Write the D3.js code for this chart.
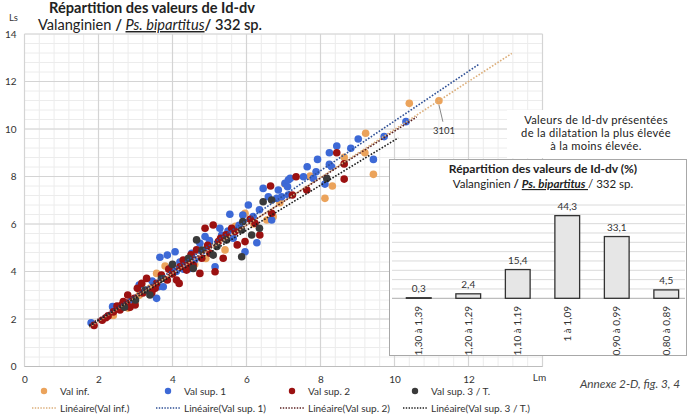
<!DOCTYPE html>
<html><head><meta charset="utf-8">
<script src="https://cdn.jsdelivr.net/npm/d3@7"></script>
<style>
body{margin:0;background:#fff;}
svg{display:block;font-family:Lato,"Open Sans",sans-serif;}
</style></head>
<body><svg id="c" width="689" height="420"></svg>
<script>
// ---------- DATA ----------
const xTicks = [0, 2, 4, 6, 8, 10, 12];
const yTicks = [0, 2, 4, 6, 8, 10, 12, 14];
const seriesNames = ["Val inf.", "Val sup. 1", "Val sup. 2", "Val sup. 3 / T."];
const trendNames = ["Linéaire(Val inf.)", "Linéaire(Val sup. 1)", "Linéaire(Val sup. 2)", "Linéaire(Val sup. 3 / T.)"];

const valInf = [[2.4,2.15],[2.8,2.46],[2.99,2.73],[3.1,3.0],[3.4,3.3],[3.57,3.92],[3.8,4.23],[4.3,4.4],[4.6,4.3],[4.9,4.55],[5.0,5.2],[5.42,4.91],[5.7,5.9],[5.96,6.45],[6.2,6.0],[6.55,6.17],[6.72,6.31],[6.9,6.9],[7.04,7.68],[7.72,8.02],[7.73,7.99],[8.12,7.08],[8.32,7.6],[8.64,8.81],[9.2,9.0],[9.22,9.82],[9.43,8.09],[10.4,11.08],[11.2,11.19]];
const valSup1 = [[1.8,1.84],[2.38,2.52],[2.6,2.45],[2.9,2.8],[3.1,3.43],[3.3,3.2],[3.45,3.6],[3.57,2.87],[3.62,3.36],[3.75,3.36],[3.66,4.6],[3.86,4.69],[4.07,4.83],[3.98,4.2],[4.1,4.0],[4.2,4.4],[4.3,4.1],[4.34,4.35],[4.47,4.13],[4.52,4.77],[4.6,4.5],[4.74,5.19],[4.8,4.85],[4.88,5.47],[4.97,5.04],[5.0,5.3],[5.15,4.2],[5.28,5.82],[5.33,5.54],[5.45,5.35],[5.5,5.7],[5.55,6.41],[5.64,5.4],[5.8,5.95],[5.96,4.83],[5.9,6.38],[6.05,6.8],[6.18,6.31],[6.28,5.21],[6.35,6.6],[6.45,7.5],[6.59,7.15],[6.68,6.17],[6.82,7.08],[6.86,7.43],[6.95,7.15],[7.04,7.71],[7.13,7.22],[7.11,7.57],[7.13,7.85],[7.18,7.92],[7.54,7.99],[7.64,8.41],[7.81,7.92],[7.88,8.2],[7.92,8.72],[8.12,7.68],[8.24,8.51],[8.24,9.0],[8.3,8.41],[8.44,9.28],[8.82,9.19],[9.02,9.58],[9.43,8.72],[9.72,9.68],[10.31,10.31]];
const valSup2 = [[1.88,1.73],[2.1,1.95],[2.2,2.05],[2.26,2.13],[2.4,2.3],[2.5,2.55],[2.58,2.38],[2.63,2.59],[2.67,2.73],[2.76,2.67],[2.79,3.01],[2.85,2.5],[2.99,2.59],[2.97,2.87],[3.05,3.29],[3.17,3.5],[3.2,3.1],[3.3,3.71],[3.53,3.29],[3.44,3.11],[3.57,3.5],[3.7,3.85],[3.86,3.64],[3.9,4.1],[4.0,3.9],[4.11,3.64],[4.18,3.5],[4.2,4.2],[4.29,4.48],[4.38,4.06],[4.45,4.3],[4.5,4.7],[4.56,4.27],[4.65,4.91],[4.79,4.56],[4.74,3.92],[4.88,5.82],[4.95,5.1],[5.01,4.77],[5.1,5.96],[5.15,3.99],[5.3,5.4],[5.37,4.56],[5.24,5.26],[5.45,5.55],[5.6,5.82],[5.69,5.68],[5.75,5.12],[5.96,5.26],[6.1,6.2],[6.23,6.03],[6.36,5.54],[6.65,7.6],[6.68,6.45],[7.34,7.99],[7.24,7.22],[7.63,7.43],[8.44,9.0],[8.64,8.53],[8.64,7.89]];
const valSup3 = [[2.7,2.5],[3.0,2.8],[3.26,3.22],[3.39,3.01],[3.7,3.7],[4.0,4.3],[4.43,4.56],[4.56,4.13],[4.65,5.33],[4.8,4.9],[5.1,4.69],[5.2,5.05],[5.46,5.33],[5.87,5.75],[5.87,4.62],[5.9,6.1],[6.14,5.54],[6.35,5.82],[6.45,6.94],[6.68,7.01],[8.17,7.92]];

// linear trend lines: slope, intercept, x start, x end
const trendSlope = [1.01, 1.047, 0.989, 0.949];
const trendIntercept = [-0.12, -0.134, 0.02, 0.04];
const trendX0 = [1.75, 1.75, 1.75, 1.75];
const trendX1 = [13.17, 12.28, 10.6, 10.1];

const labelPoint = [11.2, 11.19];
const labelText = "3101";

// inset bar chart
const barCats = ["1,30 à 1,39", "1,20 à 1,29", "1,10 à 1,19", "1 à 1,09", "0,90 à 0,99", "0,80 à 0,89"];
const barVals = [0.3, 2.4, 15.4, 44.3, 33.1, 4.5];
const barGrid = [5, 10, 15, 20, 25, 30, 35, 40, 45, 50];

// ---------- STYLE ----------
const colors = ["#eba35b", "#3d69d6", "#9b1111", "#3a3a3a"];
const trendColors = ["#dcae7a", "#2e4f95", "#5a2020", "#1e1e1e"];
const svg = d3.select("#c");

const x = d3.scaleLinear().domain([0, 14]).range([24.5, 542.5]);
const y = d3.scaleLinear().domain([0, 14]).range([366.5, 34]);

// minor grid
const minorX = d3.range(0, 14.001, 0.4);
const g = svg.append("g");
g.selectAll("line.mx").data(minorX).join("line")
  .attr("x1", d => x(d)).attr("x2", d => x(d)).attr("y1", y(14)).attr("y2", y(0))
  .attr("stroke", "#ececec").attr("stroke-width", 1);
g.selectAll("line.my").data(minorX).join("line")
  .attr("y1", d => y(d)).attr("y2", d => y(d)).attr("x1", x(0)).attr("x2", x(14))
  .attr("stroke", "#ececec").attr("stroke-width", 1);
// major grid
g.selectAll("line.Mx").data(yTicks).join("line")
  .attr("x1", d => x(d)).attr("x2", d => x(d)).attr("y1", y(14)).attr("y2", y(0))
  .attr("stroke", "#d4d4d4").attr("stroke-width", 1.2);
g.selectAll("line.My").data(yTicks).join("line")
  .attr("y1", d => y(d)).attr("y2", d => y(d)).attr("x1", x(0)).attr("x2", x(14))
  .attr("stroke", "#d4d4d4").attr("stroke-width", 1.2);
g.append("line").attr("x1", x(0)).attr("x2", x(14)).attr("y1", y(0)).attr("y2", y(0))
  .attr("stroke", "#bdbdbd").attr("stroke-width", 1.2);

// axes labels
const xa = svg.append("g").attr("transform", `translate(0,${y(0)})`)
  .call(d3.axisBottom(x).tickValues(xTicks).tickSize(0).tickPadding(9).tickFormat(d3.format("d")));
xa.select(".domain").remove();
xa.selectAll("text").attr("font-size", 10).attr("fill", "#333").attr("font-family", "Lato, sans-serif");
const ya = svg.append("g").attr("transform", `translate(${x(0)},0)`)
  .call(d3.axisLeft(y).tickValues(yTicks).tickSize(0).tickPadding(8).tickFormat(d3.format("d")));
ya.select(".domain").remove();
ya.selectAll("text").attr("font-size", 10).attr("fill", "#333").attr("font-family", "Lato, sans-serif");
svg.append("text").attr("x", x(14) - 3).attr("y", 381).attr("text-anchor", "middle")
  .attr("font-size", 10).attr("fill", "#333").text("Lm");
svg.append("text").attr("x", 9).attr("y", 21).attr("font-size", 9.5).attr("fill", "#333").text("Ls");

// points
const allSeries = [valInf, valSup1, valSup2, valSup3];
allSeries.forEach((s, i) => {
  svg.append("g").selectAll("circle").data(s).join("circle")
    .attr("cx", d => x(d[0])).attr("cy", d => y(d[1])).attr("r", 3.8)
    .attr("fill", colors[i]);
});
// trend lines
allSeries.forEach((s, i) => {
  const pts = [trendX0[i], trendX1[i]].map(v => [v, trendSlope[i] * v + trendIntercept[i]]);
  svg.append("path").attr("d", d3.line().x(d => x(d[0])).y(d => y(d[1]))(pts))
    .attr("stroke", trendColors[i]).attr("stroke-width", 1.6).attr("fill", "none")
    .attr("stroke-dasharray", "1.6,1.6");
});
// data label 3101
svg.append("line").attr("x1", x(labelPoint[0])).attr("y1", y(labelPoint[1]) + 4)
  .attr("x2", x(labelPoint[0]) + 4).attr("y2", y(labelPoint[1]) + 21)
  .attr("stroke", "#888").attr("stroke-width", 1);
svg.append("text").attr("x", x(labelPoint[0]) + 5).attr("y", y(labelPoint[1]) + 33)
  .attr("text-anchor", "middle").attr("font-size", 9.5).attr("fill", "#333").text(labelText);

// titles
svg.append("text").attr("x", 152).attr("y", 13).attr("text-anchor", "middle")
  .attr("font-size", 14.6).attr("font-weight", "bold").attr("fill", "#222").text("Répartition des valeurs de Id-dv");
const t2 = svg.append("text").attr("x", 150).attr("y", 30).attr("text-anchor", "middle")
  .attr("font-size", 14.6).attr("fill", "#222");
t2.append("tspan").text("Valanginien ");
t2.append("tspan").attr("font-weight", "bold").text("/ ");
t2.append("tspan").attr("font-style", "italic").attr("text-decoration", "underline").text("Ps. bipartitus");
t2.append("tspan").attr("font-weight", "bold").text("/");
t2.append("tspan").attr("font-weight", "600").text(" 332 sp.");

// legend
const legX = [44, 168, 292, 415];
seriesNames.forEach((n, i) => {
  svg.append("circle").attr("cx", legX[i]).attr("cy", 391).attr("r", 3.2).attr("fill", colors[i]);
  svg.append("text").attr("x", legX[i] + 16).attr("y", 394.5).attr("font-size", 10).attr("fill", "#333").text(n);
  svg.append("line").attr("x1", legX[i] - 12).attr("x2", legX[i] + 13).attr("y1", 408).attr("y2", 408)
    .attr("stroke", trendColors[i]).attr("stroke-width", 1.4).attr("stroke-dasharray", "1.4,1.4");
  svg.append("text").attr("x", legX[i] + 16).attr("y", 411.5).attr("font-size", 10).attr("fill", "#333").text(trendNames[i]);
});
svg.append("text").attr("x", 630).attr("y", 387.5).attr("text-anchor", "middle")
  .attr("font-size", 11.8).attr("font-style", "italic").attr("fill", "#444").text("Annexe 2-D, fig. 3, 4");

// annotation box
svg.append("rect").attr("x", 507).attr("y", 110).attr("width", 182).attr("height", 48).attr("fill", "#fff");
const ann = ["Valeurs de Id-dv présentées", "de la dilatation la plus élevée", "à la moins élevée."];
ann.forEach((t, i) => svg.append("text").attr("x", 596).attr("y", 123.5 + i * 13.4).attr("text-anchor", "middle")
  .attr("font-size", 11.2).attr("letter-spacing", 0.3).attr("fill", "#222").text(t));

// inset
const ix = d3.scaleBand().domain(barCats).range([394, 691]).paddingInner(0.5).paddingOuter(0.25);
const iy = d3.scaleLinear().domain([0, 50]).range([298.3, 205]);
svg.append("rect").attr("x", 389.5).attr("y", 159.5).attr("width", 297).attr("height", 196)
  .attr("fill", "#fff").attr("stroke", "#a8a8a8").attr("stroke-width", 1);
svg.append("g").selectAll("line").data(barGrid).join("line")
  .attr("x1", 392).attr("x2", 685).attr("y1", d => iy(d)).attr("y2", d => iy(d))
  .attr("stroke", "#dadada").attr("stroke-width", 1);
svg.append("line").attr("x1", 392).attr("x2", 685).attr("y1", iy(0)).attr("y2", iy(0))
  .attr("stroke", "#bdbdbd").attr("stroke-width", 1.2);
svg.append("g").selectAll("rect").data(barVals).join("rect")
  .attr("x", (d, i) => ix(barCats[i])).attr("width", ix.bandwidth())
  .attr("y", d => iy(d)).attr("height", d => iy(0) - iy(d))
  .attr("fill", "#e6e6e6").attr("stroke", "#333").attr("stroke-width", 1.3);
svg.append("g").selectAll("text").data(barVals).join("text")
  .attr("x", (d, i) => ix(barCats[i]) + ix.bandwidth() / 2).attr("y", d => iy(d) - 5.5)
  .attr("text-anchor", "middle").attr("font-size", 10).attr("fill", "#333")
  .text(d => d3.format(".1f")(d).replace(".", ","));
svg.append("g").selectAll("text").data(barCats).join("text")
  .attr("transform", d => `translate(${ix(d) + ix.bandwidth() / 2 + 3.5},306) rotate(-90)`)
  .attr("text-anchor", "end").attr("font-size", 10).attr("fill", "#333").text(d => d);
svg.append("text").attr("x", 543).attr("y", 173).attr("text-anchor", "middle")
  .attr("font-size", 12).attr("font-weight", "bold").attr("fill", "#222").text("Répartition des valeurs de Id-dv (%)");
const it2 = svg.append("text").attr("x", 543).attr("y", 188).attr("text-anchor", "middle")
  .attr("font-size", 11.5).attr("fill", "#222");
it2.append("tspan").text("Valanginien ");
it2.append("tspan").attr("font-weight", "bold").text("/ ");
it2.append("tspan").attr("font-weight", "bold").attr("font-style", "italic").attr("text-decoration", "underline").text("Ps. bipartitus ");
it2.append("tspan").text(" / 332 sp.");
</script></body></html>
